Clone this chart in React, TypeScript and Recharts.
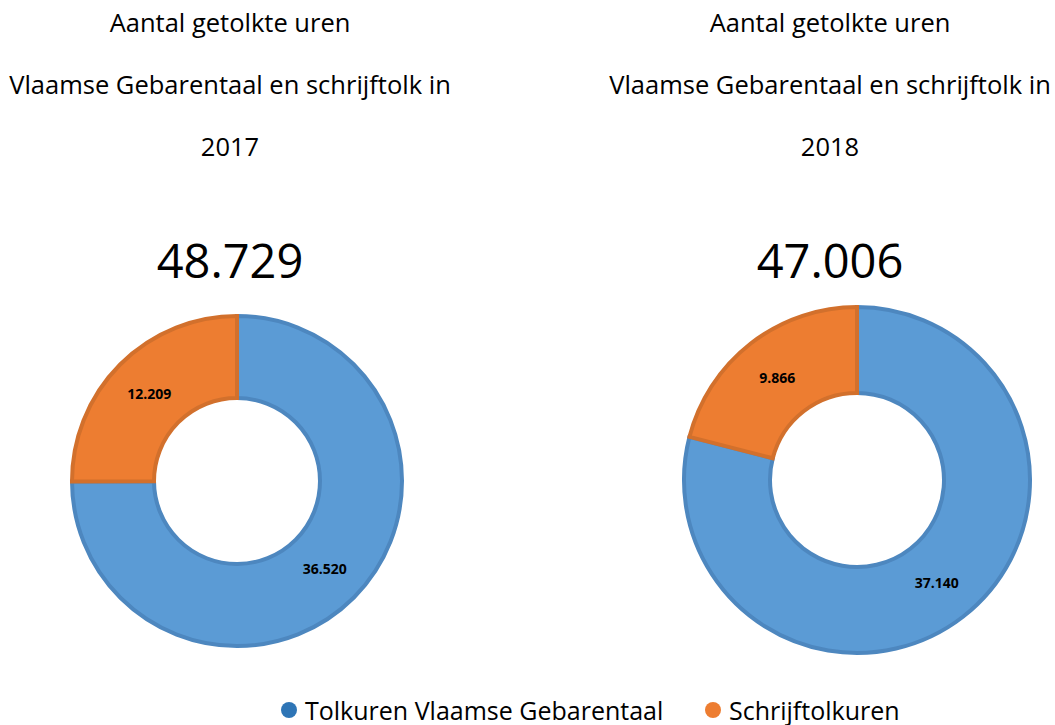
import React from "react";
import { PieChart, Pie, Cell, Legend } from "recharts";

const categories = ["Tolkuren Vlaamse Gebarentaal", "Schrijftolkuren"];
const years = ["2017", "2018"];
const values2017 = [36520, 12209];
const values2018 = [37140, 9866];

const fills = ["#5B9BD5", "#ED7D31"];
const strokes = ["#4D87BF", "#D2702C"];
const legendDots = ["#2E75B6", "#ED7D31"];
const legendX = [281, 705];

const FONT = "'Open Sans', 'Noto Sans', sans-serif";
const RAD = Math.PI / 180;

const fmt = (n: number) => String(n).replace(/\B(?=(\d{3})+(?!\d))/g, ".");

const toRows = (values: number[]) =>
  categories.map((name, i) => ({ name, value: values[i] }));

const renderLabel = (props: any) => {
  const { cx, cy, midAngle, innerRadius, outerRadius, value } = props;
  const r = (innerRadius + outerRadius) / 2;
  const x = cx + r * Math.cos(-midAngle * RAD);
  const y = cy + r * Math.sin(-midAngle * RAD);
  return (
    <text
      x={x}
      y={y}
      textAnchor="middle"
      dominantBaseline="central"
      fill="#000"
      fontFamily={FONT}
      fontWeight={700}
      fontSize={14}
    >
      {fmt(value)}
    </text>
  );
};

const LegendContent = () => (
  <div style={{ position: "relative", width: 1055, height: 30, fontFamily: FONT, fontSize: 25, color: "#000" }}>
    {categories.map((c, i) => (
      <div
        key={c}
        style={{ position: "absolute", left: legendX[i], top: 0, display: "flex", alignItems: "center", whiteSpace: "nowrap" }}
      >
        <span
          style={{
            width: 16,
            height: 16,
            borderRadius: 8,
            background: legendDots[i],
            marginRight: 8,
            display: "inline-block",
          }}
        />
        {c}
      </div>
    ))}
  </div>
);

const donuts = [
  { year: years[0], values: values2017, cx: 232, cy: 476, inner: 83, outer: 165, titleX: 230 },
  { year: years[1], values: values2018, cx: 852, cy: 475, inner: 87, outer: 173, titleX: 830 },
];

export default function App() {
  return (
    <div
      style={{
        position: "absolute",
        left: 0,
        top: 0,
        width: 1055,
        height: 725,
        background: "#fff",
        fontFamily: FONT,
      }}
    >
      {donuts.map((d) => {
        const total = d.values.reduce((a, b) => a + b, 0);
        return (
          <div
            key={d.year}
            style={{
              position: "absolute",
              left: d.titleX - 250,
              top: 0,
              width: 500,
              textAlign: "center",
              color: "#000",
            }}
          >
            <div style={{ position: "absolute", top: 5, width: 500, fontSize: 25.5 }}>
              Aantal getolkte uren
            </div>
            <div style={{ position: "absolute", top: 67, width: 500, fontSize: 25.5 }}>
              Vlaamse Gebarentaal en schrijftolk in
            </div>
            <div style={{ position: "absolute", top: 129, width: 500, fontSize: 25.5 }}>
              {d.year}
            </div>
            <div style={{ position: "absolute", top: 228, width: 500, fontSize: 47 }}>
              {fmt(total)}
            </div>
          </div>
        );
      })}
      <PieChart width={1055} height={725} style={{ position: "absolute", left: 0, top: 0 }}>
        {donuts.map((d) => (
          <Pie
            key={d.year}
            data={toRows(d.values)}
            dataKey="value"
            nameKey="name"
            cx={d.cx}
            cy={d.cy}
            innerRadius={d.inner}
            outerRadius={d.outer}
            startAngle={90}
            endAngle={-270}
            labelLine={false}
            label={renderLabel}
            isAnimationActive={false}
          >
            {d.values.map((_, i) => (
              <Cell key={i} fill={fills[i]} stroke={strokes[i]} strokeWidth={4} />
            ))}
          </Pie>
        ))}
        <Legend
          content={<LegendContent />}
          wrapperStyle={{ left: 0, top: 693, width: 1055 }}
        />
      </PieChart>
    </div>
  );
}
